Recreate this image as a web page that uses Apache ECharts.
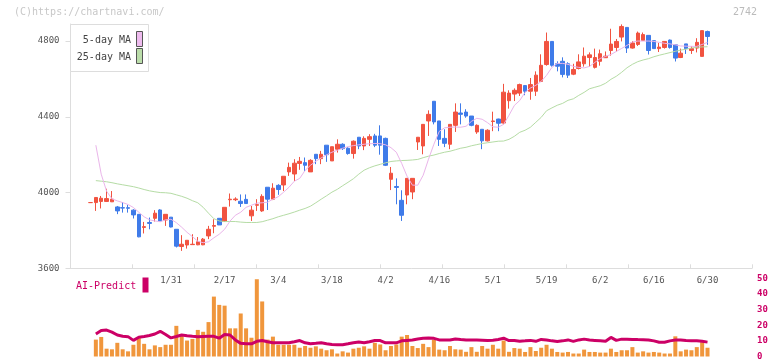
<!DOCTYPE html>
<html><head><meta charset="utf-8">
<script src="https://cdn.jsdelivr.net/npm/echarts@6/dist/echarts.min.js"></script>
<style>html,body{margin:0;padding:0;background:#fff}#c{width:772px;height:361px}</style>
</head><body><div id="c"></div>
<script>
const dates = ["1/9","1/10","1/14","1/15","1/16","1/17","1/20","1/21","1/22","1/23","1/24","1/27","1/28","1/29","1/30","1/31",
"2/3","2/4","2/5","2/6","2/7","2/10","2/12","2/13","2/14","2/17","2/18","2/19","2/20","2/21","2/25","2/26","2/27","2/28",
"3/3","3/4","3/5","3/6","3/7","3/10","3/11","3/12","3/13","3/14","3/17","3/18","3/19","3/21","3/24","3/25","3/26","3/27","3/28","3/31",
"4/1","4/2","4/3","4/4","4/7","4/8","4/9","4/10","4/11","4/14","4/15","4/16","4/17","4/18","4/21","4/22","4/23","4/24","4/25","4/28","4/30",
"5/1","5/2","5/7","5/8","5/9","5/12","5/13","5/14","5/15","5/16","5/19","5/20","5/21","5/22","5/23","5/26","5/27","5/28","5/29","5/30",
"6/2","6/3","6/4","6/5","6/6","6/9","6/10","6/11","6/12","6/13","6/16","6/17","6/18","6/19","6/20","6/23","6/24","6/25","6/26","6/27","6/30"];
const xLabels = ["1/31","2/17","3/4","3/18","4/2","4/16","5/1","5/19","6/2","6/16","6/30"];
const yTicks = [3600,4000,4400,4800];

const opens = [3947,3947,3953,3953,3951,3924,3920,3920,3907,3885,3816,3842,3864,3908,3855,3870,3806,3715,3723,3725,3724,3724,3771,3822,3864,3847,3962,3962,3954,3964,3877,3933,3903,4028,3965,4038,4040,4109,4098,4154,
4158,4109,4202,4179,4250,4167,4229,4255,4234,4206,4292,4246,4281,4299,4299,4286,4070,4032,3959,3987,4003,4267,4246,4378,4482,4378,4286,4255,4355,4420,
4425,4404,4320,4334,4273,4375,4388,4367,4485,4520,4525,4565,4535,4535,4587,4676,4798,4680,4693,4680,4625,4655,4680,4713,4661,4693,4712,4750,4766,4821,
4872,4763,4782,4803,4830,4802,4760,4766,4805,4780,4713,4785,4750,4763,4719,4850];
const closes = [3947,3974,3970,3968,3965,3903,3918,3917,3882,3766,3820,3837,3891,3850,3885,3818,3717,3727,3748,3727,3740,3754,3806,3826,3829,3922,3965,3966,3942,3942,3907,3936,3980,3965,4023,4016,4086,4133,4155,4165,
4144,4170,4179,4202,4200,4242,4255,4232,4206,4271,4246,4286,4295,4250,4250,4144,4102,4027,3880,4075,4075,4292,4360,4413,4373,4281,4260,4360,4425,4413,
4404,4355,4355,4273,4329,4378,4366,4530,4525,4540,4570,4535,4570,4620,4672,4798,4672,4667,4624,4620,4650,4690,4720,4727,4713,4733,4720,4784,4798,4877,
4763,4790,4842,4834,4750,4760,4768,4798,4766,4710,4736,4760,4760,4793,4855,4824];
const lows = [3946,3903,3916,3950,3950,3886,3894,3894,3863,3764,3784,3806,3847,3848,3824,3816,3710,3692,3704,3725,3722,3722,3754,3785,3829,3847,3926,3955,3924,3942,3850,3903,3898,3908,3960,3988,4008,4088,4061,4120,
4114,4109,4150,4150,4162,4167,4211,4225,4200,4179,4229,4224,4246,4240,4200,4140,4013,3938,3850,3938,3965,4225,4202,4299,4360,4246,4240,4229,4320,4360,
4395,4350,4310,4229,4270,4324,4324,4360,4443,4483,4510,4514,4490,4510,4587,4670,4665,4640,4608,4605,4620,4650,4665,4665,4655,4670,4712,4723,4745,4798,
4737,4760,4774,4800,4729,4760,4742,4760,4760,4692,4710,4732,4732,4740,4719,4780];
const highs = [3948,3974,3982,4020,4008,3929,3950,3935,3912,3886,3845,3868,3907,3912,3886,3870,3806,3775,3748,3780,3765,3760,3824,3859,3864,3922,3995,3975,3990,3990,3929,3965,3991,4028,4049,4044,4086,4158,4176,4188,
4185,4176,4202,4220,4250,4242,4281,4260,4240,4275,4292,4297,4308,4310,4355,4290,4135,4075,4012,4075,4075,4292,4360,4434,4482,4378,4334,4360,4471,4471,
4440,4404,4360,4334,4334,4427,4390,4574,4540,4550,4575,4565,4605,4640,4730,4845,4798,4693,4714,4688,4680,4730,4766,4740,4760,4755,4745,4865,4811,4888,
4872,4800,4850,4845,4830,4802,4790,4800,4808,4780,4760,4785,4772,4815,4855,4855];

const ma5 = [null,4250,4097,4007,3967,3956,3947,3937,3921,3896,3872,3856,3850,3846,3856,3859,3841,3817,3790,3767,3743,3735,3740,3761,3780,3806,3849,3880,3896,3922,3933,3944,3946,3949,3965,3978,4002,4028,4060,4075,
4117,4144,4165,4183,4199,4213,4223,4234,4242,4248,4252,4255,4258,4259,4258,4252,4237,4213,4154,4086,4039,4039,4091,4176,4255,4323,4342,4345,4346,4345,
4350,4376,4392,4387,4369,4347,4345,4360,4408,4460,4486,4529,4552,4566,4587,4619,4661,4682,4682,4677,4666,4661,4658,4666,4687,4708,4719,4729,4745,4761,
4777,4795,4800,4800,4800,4798,4793,4788,4785,4780,4774,4773,4772,4772,4782,4793];
const ma25 = [null,4063,4060,4057,4052,4046,4041,4036,4031,4024,4016,4009,4004,4000,3999,3996,3988,3980,3970,3957,3946,3922,3891,3862,3850,3847,3847,3847,3844,3842,3842,3842,3846,3854,3862,3872,3880,3888,3897,3907,
3916,3928,3946,3965,3983,4002,4017,4036,4054,4073,4097,4118,4131,4141,4149,4157,4164,4167,4169,4170,4172,4175,4184,4192,4198,4206,4213,4218,4226,4234,
4239,4247,4253,4259,4263,4267,4271,4272,4281,4297,4318,4329,4345,4371,4397,4432,4447,4461,4471,4487,4495,4513,4529,4548,4556,4564,4577,4598,4614,4635,
4659,4677,4691,4700,4707,4717,4725,4732,4739,4746,4752,4757,4763,4767,4769,4770];

const volume = [null,10.8,12.5,5,4.6,8.75,4.6,3.3,7.5,11.7,8.1,4.6,7.1,6,7.5,7.5,19.6,13.3,10.2,11.25,17,15.8,22,38.3,33,32.5,18,18,27.5,18,12,49.4,35.2,10.8,12.7,7.5,7.5,7.5,7.5,5.6,
6.7,5.6,6.5,5,4,4.6,1.9,3.3,2.5,5,5.6,6.5,5,8.75,7.7,4,6.7,7.7,12.7,13.75,6.7,5.4,8.1,6,10.8,4.4,4,6.7,4.6,4.4,
3,6,3,6.7,5,7.5,5,10.2,3,5.4,5,2.9,6,3.5,5.6,7.5,5,2.9,2.5,2.9,1.9,1.9,4.4,2.9,2.9,2.5,2.5,5,2.9,4,
4,6,2.5,3.3,2.5,2.9,2.5,1.9,1.9,12.9,3.3,4.4,4,6,9.2,5.6];
const aiPredict = [null,14.4,16.6,16.9,15.6,13.75,12.9,12.7,10.3,12.3,12.8,13.4,14.4,16.1,14.1,11.9,12.8,13.75,13.3,12.9,12.7,12.8,12.9,12.9,11.7,14.1,13.75,10.6,8.4,8.1,8.1,9.7,10.2,9.4,8.75,8.75,8.75,8.75,9.4,10.2,
8.75,8.1,8.4,8.75,8.1,7.7,7.5,7.5,8.1,8.75,9.2,8.75,9.4,10.2,10.2,8.75,8.75,8.75,10,10.3,10.6,11.25,11.7,11.9,11.6,10.6,10.6,10.6,11.25,10.9,
10.6,10.6,10.6,10.4,10.2,10.4,10.9,11.7,10.2,10.2,9.8,10,10.3,9.7,10.9,10.6,10,9.6,10,10.6,9.7,10.6,11.1,10.6,10.3,10,9.7,12.2,10.3,11.1,
11.1,10.9,10.8,10.75,10.6,10,9.1,9.1,10,10.5,10.6,10.3,10.1,10,9.7,9.2];

const FONT = '"DejaVu Sans Mono", monospace';
const ohlc = opens.map((o, i) => [o, closes[i], lows[i], highs[i]]);
const UP = '#f15340', DOWN = '#3f7be9';

const chart = echarts.init(document.getElementById('c'), null, {renderer: 'canvas'});
chart.setOption({
  animation: false,
  backgroundColor: '#fff',
  grid: [
    {left: 70.5, right: 20, top: 24, height: 244.3},
    {left: 87.8, right: 61.8, top: 24, height: 244.3},
    {left: 87.8, right: 61.8, top: 278.3, height: 80}
  ],
  xAxis: [
    {gridIndex: 0, type: 'value', min: 0, max: 11, interval: 1,
     axisLine: {show: true, lineStyle: {color: '#ddd', width: 1}},
     axisTick: {show: true, inside: true, length: 4, lineStyle: {color: '#ddd'}, customValues: [1,2,3,4,5,6,7,8,9,10,11]},
     axisLabel: {show: false}, splitLine: {show: false}},
    {gridIndex: 1, type: 'category', data: dates, boundaryGap: true,
     axisLine: {show: false}, axisTick: {show: false}, splitLine: {show: false},
     axisLabel: {interval: (i, v) => xLabels.includes(v), color: '#555', fontSize: 9, fontFamily: FONT, margin: 8, hideOverlap: false}},
    {gridIndex: 2, type: 'category', data: dates, boundaryGap: true, show: false}
  ],
  yAxis: [
    {gridIndex: 0, type: 'value', min: 3600, max: 4890,
     axisLine: {show: true, lineStyle: {color: '#ddd', width: 1}},
     axisTick: {show: true, length: 5, lineStyle: {color: '#ddd'}, customValues: yTicks},
     axisLabel: {customValues: yTicks, formatter: v => String(v), color: '#555', fontSize: 9, fontFamily: FONT, margin: 11},
     splitLine: {show: false}},
    {gridIndex: 1, type: 'value', min: 3600, max: 4890, show: false, splitLine: {show: false}},
    {gridIndex: 2, type: 'value', min: 0, max: 50, interval: 10, position: 'right', offset: 41.8,
     axisLine: {show: false}, axisTick: {show: false}, splitLine: {show: false},
     axisLabel: {color: '#cc0066', fontSize: 9, fontWeight: 'bold', fontFamily: FONT, margin: 5}}
  ],
  series: [
    {type: 'line', xAxisIndex: 1, yAxisIndex: 1, data: ma25, symbol: 'none', silent: true,
     lineStyle: {color: '#b5dca5', width: 1}},
    {type: 'line', xAxisIndex: 1, yAxisIndex: 1, data: ma5, symbol: 'none', silent: true,
     lineStyle: {color: '#eab5ea', width: 1}},
    {type: 'candlestick', xAxisIndex: 1, yAxisIndex: 1, data: ohlc, barWidth: 4, clip: false,
     itemStyle: {color: UP, color0: DOWN, borderColor: UP, borderColor0: DOWN, borderWidth: 1}},
    {type: 'bar', xAxisIndex: 2, yAxisIndex: 2, data: volume, barWidth: 4,
     itemStyle: {color: '#f0963c'}},
    {type: 'line', xAxisIndex: 2, yAxisIndex: 2, data: aiPredict, symbol: 'none',
     lineStyle: {color: '#cc0066', width: 3}}
  ],
  graphic: [
    {type: 'text', x: 14, y: 7, style: {text: '(C)https://chartnavi.com/', fill: '#c8c8c8', font: '10px ' + FONT}},
    {type: 'text', x: 757, y: 7, style: {text: '2742', fill: '#bbb', font: '10px ' + FONT, align: 'right'}},
    {type: 'rect', z: 100, shape: {x: 70.5, y: 24.5, width: 78, height: 47}, style: {fill: '#fff', stroke: '#ddd', lineWidth: 1}},
    {type: 'text', z: 101, x: 131, y: 40.7, style: {text: '5-day MA', fill: '#444', font: '10px ' + FONT, align: 'right', verticalAlign: 'middle'}},
    {type: 'text', z: 101, x: 131, y: 57.3, style: {text: '25-day MA', fill: '#444', font: '10px ' + FONT, align: 'right', verticalAlign: 'middle'}},
    {type: 'rect', z: 101, shape: {x: 136.5, y: 31.5, width: 6, height: 15}, style: {fill: '#eebbee', stroke: '#555', lineWidth: 1}},
    {type: 'rect', z: 101, shape: {x: 136.5, y: 48.5, width: 6, height: 15}, style: {fill: '#bbddaa', stroke: '#555', lineWidth: 1}},
    {type: 'text', x: 76, y: 286, style: {text: 'AI-Predict', fill: '#cc0066', font: '10px ' + FONT, verticalAlign: 'middle'}},
    {type: 'rect', shape: {x: 142.5, y: 277.5, width: 6, height: 15}, style: {fill: '#cc0066'}}
  ]
});
</script></body></html>
